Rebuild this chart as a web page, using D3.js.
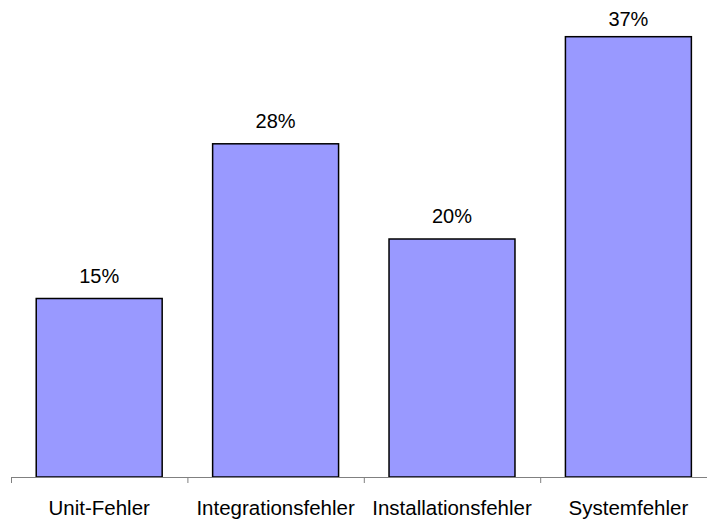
<!DOCTYPE html>
<html>
<head>
<meta charset="utf-8">
<script src="https://cdn.jsdelivr.net/npm/d3@7"></script>
<style>
  body { margin: 0; background: #fff; }
  text { font-family: "Liberation Sans", Arial, sans-serif; fill: #000; }
</style>
</head>
<body>
<div id="chart"></div>
<script>
var categories = ['Unit-Fehler', 'Integrationsfehler', 'Installationsfehler', 'Systemfehler'];
var values = [15, 28, 20, 37];
var valueLabels = ['15%', '28%', '20%', '37%'];

var width = 707;
var height = 520;
var baseline = 477;

var svg = d3.select('#chart')
  .append('svg')
  .attr('width', width)
  .attr('height', height);

// scales
var x_scale = d3.scaleBand()
  .domain(categories)
  .range([11, 716.6])
  .paddingInner(0.286)
  .paddingOuter(0.143);

var y_scale = d3.scaleLinear()
  .domain([0, 40])
  .range([baseline, 1]);

// tick positions sit on the category boundaries
var edge_scale = d3.scaleLinear()
  .domain([0, categories.length])
  .range([11, 716.6]);

// bars
svg.selectAll('rect.bar')
  .data(values)
  .enter()
  .append('rect')
  .attr('class', 'bar')
  .attr('x', function(d, i){ return x_scale(categories[i]); })
  .attr('y', function(d){ return y_scale(d); })
  .attr('width', x_scale.bandwidth())
  .attr('height', function(d){ return baseline - y_scale(d); })
  .attr('fill', '#9999ff')
  .attr('stroke', '#000')
  .attr('stroke-width', 1.5);

// axis line + boundary ticks
var edge_axis = d3.axisBottom(edge_scale)
  .tickValues(d3.range(0, categories.length + 1))
  .tickFormat('')
  .tickSize(6)
  .tickSizeOuter(0);
var g_edges = svg.append('g')
  .attr('transform', 'translate(0,' + baseline + ')')
  .call(edge_axis);
g_edges.selectAll('path, line').attr('stroke', '#808080').attr('stroke-width', 1);

// category labels
var x_axis = d3.axisBottom(x_scale).tickSize(0).tickPadding(0);
var g_x = svg.append('g')
  .attr('transform', 'translate(0,' + baseline + ')')
  .call(x_axis);
g_x.select('.domain').remove();
g_x.selectAll('text')
  .attr('dy', null)
  .attr('y', 38)
  .style('font-size', '20.5px')
  .style('font-family', '"Liberation Sans", Arial, sans-serif')
  .attr('fill', '#000');

// value labels (kept inside the plot area at the top)
svg.selectAll('text.value')
  .data(values)
  .enter()
  .append('text')
  .attr('class', 'value')
  .attr('x', function(d, i){ return x_scale(categories[i]) + x_scale.bandwidth() / 2; })
  .attr('y', function(d){ return Math.max(y_scale(d) - 16, 26); })
  .attr('text-anchor', 'middle')
  .style('font-size', '20px')
  .text(function(d, i){ return valueLabels[i]; });
</script>
</body>
</html>
